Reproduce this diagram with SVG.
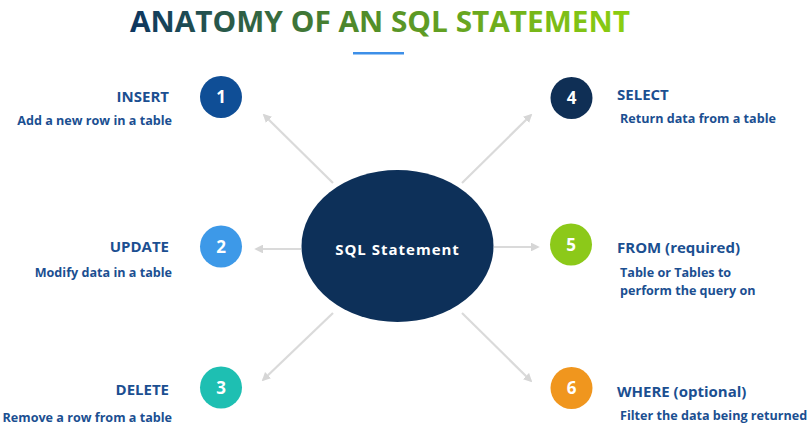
<svg xmlns="http://www.w3.org/2000/svg" width="812" height="437" viewBox="0 0 812 437">
<defs>
<linearGradient id="tg" x1="130" y1="0" x2="630" y2="0" gradientUnits="userSpaceOnUse">
<stop offset="0" stop-color="#0d3560"/>
<stop offset="0.45" stop-color="#4f8a2a"/>
<stop offset="1" stop-color="#8ccf10"/>
</linearGradient>
<marker id="ah" viewBox="0 0 10 10" refX="8" refY="5" markerWidth="4" markerHeight="4" orient="auto">
<path d="M0,0 L10,5 L0,10 z" fill="#d6d6d6"/>
</marker>
<style>
.h{font-family:"Open Sans","Liberation Sans",sans-serif;font-weight:bold;font-size:15px;fill:#1b4f91}
.d{font-family:"Open Sans","Liberation Sans",sans-serif;font-weight:bold;font-size:12.6px;fill:#1b4f91}
.n{font-family:"Open Sans","Liberation Sans",sans-serif;font-weight:bold;font-size:17px;fill:#fff;text-anchor:middle}
.c{stroke:#dadada;stroke-width:2.2;fill:none;marker-end:url(#ah)}
</style>
</defs>
<rect width="812" height="437" fill="#fff"/>
<g id="title">
<text x="130" y="32" font-family="Open Sans, Liberation Sans, sans-serif" font-weight="bold" font-size="29" fill="url(#tg)" textLength="500" lengthAdjust="spacingAndGlyphs">ANATOMY OF AN SQL STATEMENT</text>
<rect x="353" y="52" width="51" height="2.5" fill="#3d8fe8"/>
</g>
<g id="connectors">
<line class="c" x1="333" y1="183" x2="264" y2="115"/>
<line class="c" x1="462" y1="183" x2="531" y2="115"/>
<line class="c" x1="301" y1="249" x2="256" y2="249"/>
<line class="c" x1="494" y1="247" x2="538" y2="247"/>
<line class="c" x1="333" y1="313" x2="263" y2="380"/>
<line class="c" x1="462" y1="313" x2="531" y2="381"/>
</g>
<g id="center">
<ellipse cx="397.5" cy="246" rx="96" ry="76" fill="#0d3059"/>
<text x="397.5" y="255" text-anchor="middle" font-family="Open Sans, Liberation Sans, sans-serif" font-weight="bold" font-size="15" fill="#fff" letter-spacing="1">SQL Statement</text>
</g>
<g id="n1">
<circle cx="221" cy="97" r="21" fill="#0f4e96"/>
<text class="n" x="221" y="103">1</text>
<text class="h" x="169" y="102" text-anchor="end">INSERT</text>
<text class="d" x="172" y="125" text-anchor="end">Add a new row in a table</text>
</g>
<g id="n2">
<circle cx="221" cy="246.5" r="21" fill="#3d99e8"/>
<text class="n" x="221" y="252.5">2</text>
<text class="h" x="169" y="252" text-anchor="end">UPDATE</text>
<text class="d" x="172" y="277" text-anchor="end">Modify data in a table</text>
</g>
<g id="n3">
<circle cx="221" cy="387.5" r="21" fill="#1ebfb2"/>
<text class="n" x="221" y="393.5">3</text>
<text class="h" x="169" y="395" text-anchor="end">DELETE</text>
<text class="d" x="172" y="422" text-anchor="end">Remove a row from a table</text>
</g>
<g id="n4">
<circle cx="571.5" cy="98" r="21" fill="#0f2f55"/>
<text class="n" x="571.5" y="104">4</text>
<text class="h" x="617" y="100">SELECT</text>
<text class="d" x="620" y="123">Return data from a table</text>
</g>
<g id="n5">
<circle cx="571" cy="244.5" r="21" fill="#8cc919"/>
<text class="n" x="571" y="250.5">5</text>
<text class="h" x="617" y="253">FROM (required)</text>
<text class="d" x="620" y="277">Table or Tables to</text>
<text class="d" x="620" y="295">perform the query on</text>
</g>
<g id="n6">
<circle cx="571.5" cy="388" r="21" fill="#f0961e"/>
<text class="n" x="571.5" y="394">6</text>
<text class="h" x="617" y="397">WHERE (optional)</text>
<text class="d" x="620" y="420">Filter the data being returned</text>
</g>
</svg>
